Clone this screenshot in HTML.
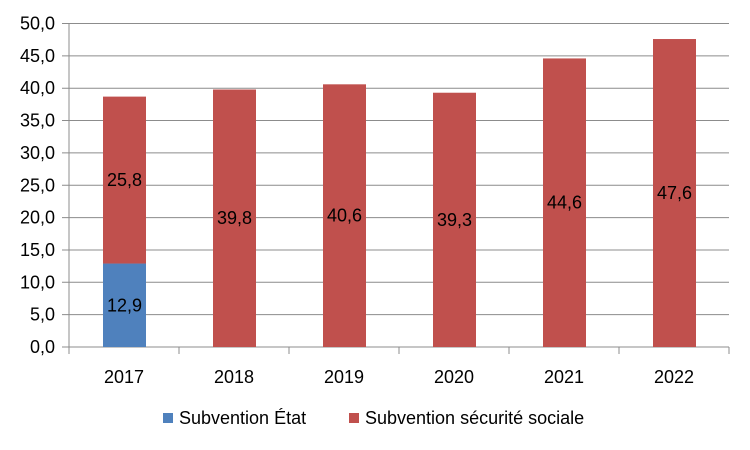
<!DOCTYPE html>
<html><head><meta charset="utf-8"><style>
body{margin:0;background:#fff;}
svg{display:block;font-family:"Liberation Sans",sans-serif;}
</style></head><body>
<svg id="c" width="750" height="450"></svg>
<script>
const categories=["2017","2018","2019","2020","2021","2022"];
const etat=[12.9,0,0,0,0,0];
const secu=[25.8,39.8,40.6,39.3,44.6,47.6];
const yTicks=[0,5,10,15,20,25,30,35,40,45,50];
const NS="http://www.w3.org/2000/svg";
const svg=document.getElementById('c');
const x0=69,cw=110,y0=347,yTop=23.5,yMax=50;
const y=v=>y0-(v/yMax)*(y0-yTop);
function el(t,a){const e=document.createElementNS(NS,t);for(const k in a)e.setAttribute(k,a[k]);svg.appendChild(e);return e;}
const fmt=v=>v.toFixed(1).replace('.',',');
yTicks.forEach(t=>{
 const g=el('line',{x1:62,x2:x0+cw*categories.length,y1:y(t),y2:y(t),stroke:'#8c8c8c','stroke-width':1});
 
 
 const l=el('text',{x:55,y:y(t)+6,'text-anchor':'end','font-size':18,fill:'#000'});
 l.textContent=fmt(t);
 
 
});
const ax=el('line',{x1:x0,x2:x0,y1:yTop,y2:y0,stroke:'#8c8c8c'});


for(let i=0;i<=categories.length;i++){
 const t=el('line',{x1:x0+cw*i,x2:x0+cw*i,y1:y0,y2:y0+7,stroke:'#8c8c8c'});
 
 
}
categories.forEach((c,i)=>{
 const bx=x0+cw*i+34,bw=43,cx=bx+bw/2;
 if(etat[i]>0){
  const r=el('rect',{x:bx,y:y(etat[i]),width:bw,height:y0-y(etat[i]),fill:'#4f81bd'});
  
  
  const t=el('text',{x:cx,y:(y0+y(etat[i]))/2+6,'text-anchor':'middle','font-size':18});
  t.textContent=fmt(etat[i]);
  
  
 }
 const top=etat[i]+secu[i];
 const r=el('rect',{x:bx,y:y(top),width:bw,height:y(etat[i])-y(top),fill:'#c0504d'});
 
 
 const t=el('text',{x:cx,y:(y(etat[i])+y(top))/2+6,'text-anchor':'middle','font-size':18});
 t.textContent=fmt(secu[i]);
 
 
 const xl=el('text',{x:x0+cw*i+cw/2,y:383,'text-anchor':'middle','font-size':18});
 xl.textContent=c;
 
 
});
[[163,'#4f81bd','Subvention État'],[349,'#c0504d','Subvention sécurité sociale']].forEach(([lx,col,txt])=>{
 const s=el('rect',{x:lx,y:413,width:10,height:10,fill:col});
 
 
 const t=el('text',{x:lx+16,y:424,'font-size':18});
 t.textContent=txt;
 
 
});
</script>
</body></html>
